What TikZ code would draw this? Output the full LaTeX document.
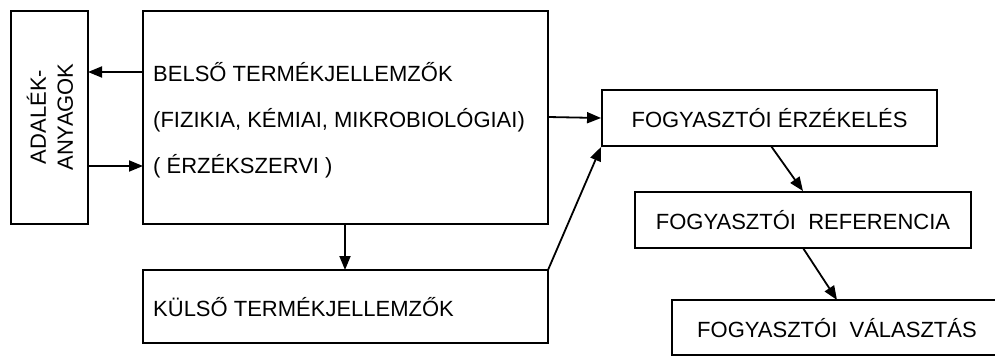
\documentclass[tikz,border=0pt]{standalone}
\usepackage{fontspec}
\setmainfont{Liberation Sans}
\usetikzlibrary{arrows.meta}
\begin{document}
\begin{tikzpicture}[x=1pt,y=-1pt,
  box/.style={draw, line width=1.9pt},
  txt/.style={font=\fontsize{22}{26}\selectfont},
  lbl/.style={txt, anchor=west, inner sep=0pt},
  arr/.style={-{Triangle[length=14pt,width=11pt]}, line width=1.8pt}]
\useasboundingbox (0,0) rectangle (995,356);
\begin{scope}
\clip (0,0) rectangle (995,356);
% boxes
\draw[box] (11,11) rectangle (88,224);
\node[rotate=90, align=center, font=\fontsize{22}{27}\selectfont, inner sep=0pt] (ad) at (50,117) {ADALÉK-\\ANYAGOK};
\coordinate (adE1) at (88,72);
\coordinate (adE2) at (88,166);
\draw[box] (143,11) rectangle (548,224);
\coordinate (mainW1) at (143,72);
\coordinate (mainW2) at (143,166);
\coordinate (mainE) at (548,117);
\coordinate (mainS) at (345,224);
\node[lbl] (belso) at (153,72) {BELSŐ TERMÉKJELLEMZŐK};
\node[lbl] (fiz) at (153,120) {(FIZIKIA, KÉMIAI, MIKROBIOLÓGIAI)};
\node[lbl] (erz) at (153,166) {( ÉRZÉKSZERVI )};
\draw[box] (143,270) rectangle (548,343);
\coordinate (kulN) at (345,270);
\coordinate (kulNE) at (548,270);
\node[lbl] (kul) at (153,307) {KÜLSŐ TERMÉKJELLEMZŐK};
\node[box, txt, minimum width=335pt, minimum height=56pt, inner sep=0pt] (fe) at (769.5,118) {FOGYASZTÓI ÉRZÉKELÉS};
\node[box, txt, minimum width=336pt, minimum height=56pt, inner sep=0pt] (fr) at (803,220) {FOGYASZTÓI\ \ REFERENCIA};
\draw[box] (672,300) rectangle (1010,355);
\node[lbl] (fv) at (697,328) {FOGYASZTÓI\ \ VÁLASZTÁS};
\coordinate (fvN) at (837,300);
% arrows
\draw[arr] (mainW1) -- (adE1);
\draw[arr] (adE2) -- (mainW2);
\draw[arr] (mainS) -- (kulN);
\draw[arr] (mainE) -- (fe.west);
\draw[arr] (kulNE) -- (fe.south west);
\draw[arr] (771,146) -- (fr.north);
\draw[arr] (803,248) -- (fvN);
\end{scope}
\end{tikzpicture}
\end{document}
